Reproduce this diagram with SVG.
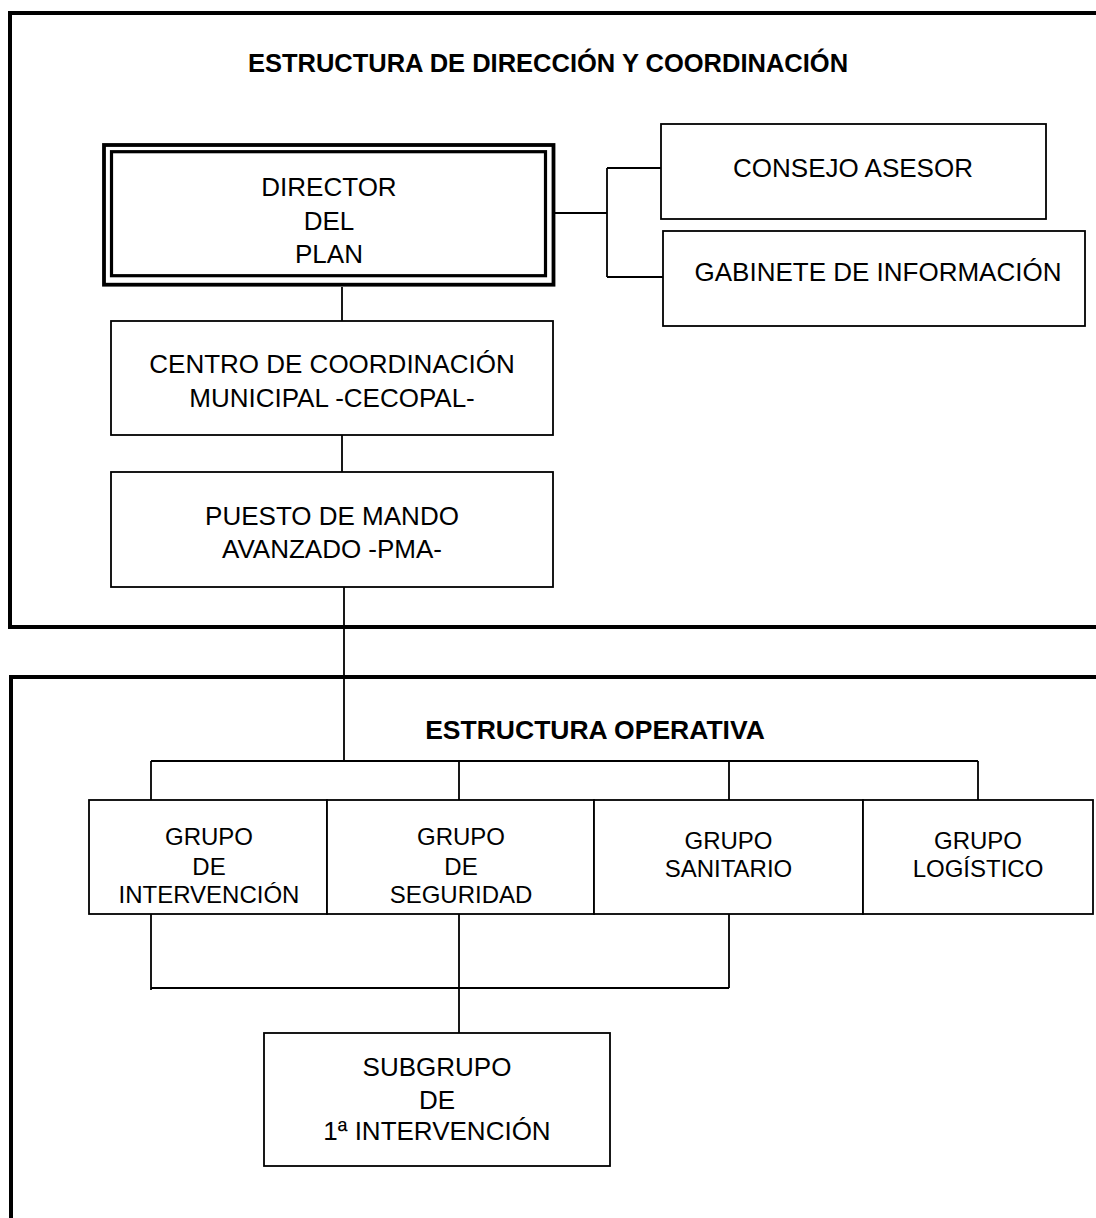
<svg xmlns="http://www.w3.org/2000/svg" width="1096" height="1218" viewBox="0 0 1096 1218">
<style>
text{font-family:"Liberation Sans",Arial,sans-serif;fill:#000;text-anchor:middle}
.t{font-size:26px}
.g{font-size:24px}
.h{font-weight:bold}
.box{fill:#fff;stroke:#000;stroke-width:1.8}
.frame{fill:none;stroke:#000;stroke-width:4}
.c{fill:none;stroke:#000;stroke-width:1.8}
</style>
<rect width="1096" height="1218" fill="#fff"/>
<g id="frame-direccion">
<rect class="frame" x="10" y="13" width="1100" height="614"/>
<text class="h" x="548" y="72" font-size="25.5">ESTRUCTURA DE DIRECCIÓN Y COORDINACIÓN</text>
</g>
<g id="frame-operativa">
<rect class="frame" x="11" y="677" width="1100" height="600"/>
<text class="h" x="595" y="739" font-size="26.5">ESTRUCTURA OPERATIVA</text>
</g>
<g id="connectors">
<path class="c" d="M342 287V321M342 435V472M344 587V761M151 761H978M151 761V800M459 761V800M729 761V800M978 761V800"/>
<path class="c" d="M555 213H607M607 168V277M607 168H662M607 277H664"/>
<path class="c" d="M151 914V990M459 914V1033M729 914V988M151 988H729"/>
</g>
<g id="director">
<rect x="104" y="145" width="449.5" height="139.7" fill="#fff" stroke="#000" stroke-width="3.8"/>
<rect x="111.5" y="151.7" width="434" height="124" fill="#fff" stroke="#000" stroke-width="3.2"/>
<text class="t" x="329" y="196">DIRECTOR</text>
<text class="t" x="329" y="229.5">DEL</text>
<text class="t" x="329" y="263">PLAN</text>
</g>
<g id="consejo">
<rect class="box" x="661" y="124" width="385" height="95"/>
<text class="t" x="853" y="176.5">CONSEJO ASESOR</text>
</g>
<g id="gabinete">
<rect class="box" x="663" y="231" width="422" height="95"/>
<text class="t" x="878" y="281">GABINETE DE INFORMACIÓN</text>
</g>
<g id="cecopal">
<rect class="box" x="111" y="321" width="442" height="114"/>
<text class="t" x="332" y="373">CENTRO DE COORDINACIÓN</text>
<text class="t" x="332" y="406.5">MUNICIPAL -CECOPAL-</text>
</g>
<g id="pma">
<rect class="box" x="111" y="472" width="442" height="115"/>
<text class="t" x="332" y="525">PUESTO DE MANDO</text>
<text class="t" x="332" y="557.5">AVANZADO -PMA-</text>
</g>
<g id="grupo-intervencion">
<rect class="box" x="89" y="800" width="238" height="114"/>
<text class="g" x="209" y="845">GRUPO</text>
<text class="g" x="209" y="874.5">DE</text>
<text class="g" x="209" y="903">INTERVENCIÓN</text>
</g>
<g id="grupo-seguridad">
<rect class="box" x="327" y="800" width="267" height="114"/>
<text class="g" x="461" y="845">GRUPO</text>
<text class="g" x="461" y="874.5">DE</text>
<text class="g" x="461" y="903">SEGURIDAD</text>
</g>
<g id="grupo-sanitario">
<rect class="box" x="594" y="800" width="269" height="114"/>
<text class="g" x="728.5" y="849">GRUPO</text>
<text class="g" x="728.5" y="877">SANITARIO</text>
</g>
<g id="grupo-logistico">
<rect class="box" x="863" y="800" width="230" height="114"/>
<text class="g" x="978" y="849">GRUPO</text>
<text class="g" x="978" y="877">LOGÍSTICO</text>
</g>
<g id="subgrupo">
<rect class="box" x="264" y="1033" width="346" height="133"/>
<text class="t" x="437" y="1076">SUBGRUPO</text>
<text class="t" x="437" y="1109">DE</text>
<text class="t" x="437" y="1140">1ª INTERVENCIÓN</text>
</g>
</svg>
